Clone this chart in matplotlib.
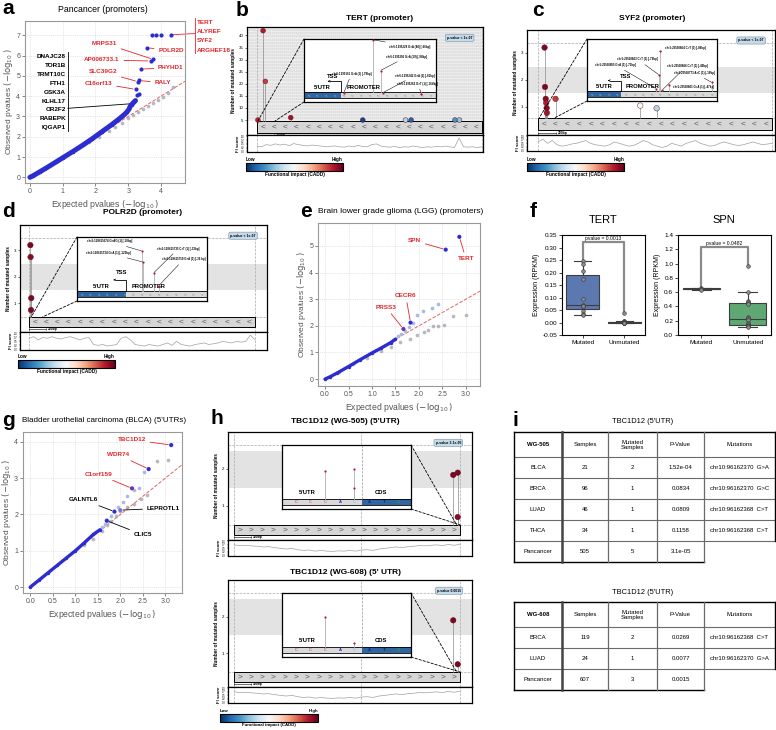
import numpy as np
import matplotlib
matplotlib.use("Agg")
import matplotlib.pyplot as plt
from matplotlib.patches import Rectangle, ConnectionPatch
from matplotlib import cm

plt.rcParams['font.family'] = ['Liberation Sans', 'DejaVu Sans']
plt.rcParams['mathtext.fontset'] = 'dejavusans'

W, H = 776, 730
CMAP = plt.get_cmap('RdBu_r')

# ---------------- data ----------------
# a: Pancancer promoters QQ
a_curve_x = [0.0, 0.1, 0.3, 0.5, 0.8, 1.0, 1.3, 1.6, 1.9, 2.2, 2.5, 2.7, 2.85, 2.95, 3.02, 3.06, 3.1, 3.14, 3.18, 3.22]
a_curve_y = [0.0, 0.08, 0.27, 0.46, 0.76, 0.96, 1.26, 1.57, 1.9, 2.25, 2.6, 2.85, 3.05, 3.2, 3.35, 3.5, 3.58, 3.65, 3.72, 3.78]
a_null_x = [1.8, 2.1, 2.4, 2.6, 2.8, 3.0, 3.15, 3.3, 3.45, 3.6, 3.75, 3.9, 4.05, 4.2, 4.35]
a_null_y = [1.72, 2.0, 2.3, 2.5, 2.7, 2.9, 3.05, 3.2, 3.35, 3.5, 3.65, 3.8, 3.95, 4.15, 4.45]
a_hit_x = [3.28, 3.33, 3.23, 3.3, 3.33, 3.38, 3.68, 3.76, 3.56, 3.71, 3.85, 4.0, 4.3]
a_hit_y = [4.06, 4.09, 4.33, 4.71, 4.77, 5.33, 5.73, 5.81, 6.38, 7.03, 7.03, 7.03, 7.03]
a_top_genes = ["TERT", "ALYREF", "SYF2", "ARGHEF18"]
a_red_genes = ["MRPS31", "AP006733.1", "POLR2D", "PHYHD1", "SLC39G2", "RALY", "C16orf13"]
a_red_hit = [7, 6, 8, 5, 3, 4, 2]
a_black_genes = ["DNAJC28", "TOR1B", "TRMT10C", "FTH1", "GSK3A", "KLHL17", "OR2F2", "RABEPK", "IQGAP1"]

# e: LGG promoters QQ
e_curve_x = [0.0, 0.1, 0.25, 0.5, 0.75, 1.0, 1.2, 1.4, 1.5]
e_curve_y = [0.0, 0.08, 0.22, 0.47, 0.73, 0.98, 1.17, 1.37, 1.5]
e_light_x = [1.55, 1.62, 1.7, 1.78, 1.88, 1.95, 2.09, 2.27, 2.41]
e_light_y = [1.6, 1.7, 1.82, 1.95, 2.1, 2.4, 2.56, 2.66, 2.81]
e_null_x = [0.3, 0.6, 0.9, 1.2, 1.4, 1.6, 1.8, 1.95, 2.1, 2.2, 2.29, 2.41, 2.53, 2.72, 3.0]
e_null_y = [0.28, 0.55, 0.8, 1.05, 1.2, 1.38, 1.52, 1.64, 1.75, 1.86, 1.99, 2.0, 2.02, 2.36, 2.39]
e_genes = ["SPN", "TERT", "CECR6", "PRSS3"]
e_gene_x = [2.57, 2.86, 1.82, 1.67]
e_gene_y = [4.86, 5.34, 2.12, 1.88]

# g: BLCA 5'UTR QQ
g_curve_x = [0.0, 0.2, 0.4, 0.6, 0.8, 1.0, 1.2, 1.4, 1.55]
g_curve_y = [0.0, 0.2, 0.4, 0.6, 0.8, 1.0, 1.22, 1.45, 1.58]
g_light_x = [1.6, 1.65, 1.72, 1.8, 1.95, 2.05, 2.15, 2.3, 2.41, 2.52]
g_light_y = [1.65, 1.75, 1.83, 1.95, 2.2, 2.35, 2.5, 2.68, 2.72, 3.16]
g_null_x = [1.2, 1.4, 1.6, 1.7, 1.8, 1.9, 2.0, 2.15, 2.3, 2.45, 2.6, 2.81, 3.07]
g_null_y = [1.15, 1.33, 1.55, 1.7, 1.82, 1.95, 2.1, 2.2, 2.3, 2.42, 2.55, 3.48, 3.51]
g_genes = ["TBC1D12", "WDR74", "C1orf159", "GALNTL6", "LEPROTL1", "CLIC5"]
g_gene_x = [3.13, 2.63, 2.26, 1.87, 2.0, 1.7]
g_gene_y = [3.91, 3.25, 2.72, 2.08, 2.12, 1.83]

# b: TERT promoter mutations (position along region 0-1000, samples, CADD 0-1)
b_pos = [4, 27, 37, 150, 470, 660, 685, 880, 900]
b_cnt = [5, 42, 21, 6, 5, 5, 5, 5, 5]
b_cadd = [0.88, 0.9, 0.85, 0.92, 0.05, 0.35, 0.1, 0.2, 0.3]
b_fi = [0.35, 0.3, 0.45, 0.4, 0.5, 0.42, 0.48, 0.38, 0.52, 0.45, 0.4, 0.36, 0.42, 0.38, 0.35, 0.3, 0.33,
        0.36, 0.3, 0.28, 0.35, 0.3, 0.4, 0.32, 0.3, 0.45, 0.5, 0.35, 0.3, 0.28, 0.32, 0.25, 0.3, 0.28, 0.35,
        0.3, 0.25, 0.3, 0.28, 0.32, 0.3, 0.35, 0.3, 0.25, 0.9, 0.3, 0.28, 0.3, 0.25, 0.3]
b_in_x = [0.30, 0.52, 0.58, 0.60, 0.89]
b_in_y = [0.14, 0.99, 0.50, 0.15, 0.13]
b_in_lab = ["chr5:1295161 G>A (1) [-79bp]", "chr5:1295228 G>A (40) [-66bp]", "chr5:1295250 G>A (19) [-88bp]",
            "chr5:1295242 G>A (2) [-81bp]", "chr5:1295262 G>T (1) [-164bp]"]

# c: SYF2 promoter
c_pos = [28, 30, 33, 35, 37, 38, 75, 437, 507]
c_cnt = [3.2, 1.74, 1.3, 1.15, 0.96, 0.78, 1.3, 1.05, 0.95]
c_cadd = [0.97, 0.97, 0.95, 0.9, 0.95, 0.92, 0.85, 0.5, 0.35]
c_fi = [0.6, 0.8, 0.5, 0.7, 0.4, 0.3, 0.35, 0.45, 0.5, 0.6, 0.7, 0.5, 0.4, 0.35, 0.3, 0.4, 0.6, 0.5, 0.4,
        0.3, 0.35, 0.5, 0.7, 0.6, 0.4, 0.3, 0.2, 0.3, 0.5, 0.4, 0.3, 0.5, 0.6, 0.7, 0.5, 0.4, 0.3, 0.35,
        0.5, 0.6, 0.5, 0.4, 0.35, 0.4, 0.5, 0.6, 0.5, 0.4, 0.45, 0.5]
c_in_x = [0.53, 0.555, 0.565, 0.58, 0.63, 0.96]
c_in_y = [0.2, 0.42, 0.8, 0.18, 0.26, 0.3]
c_in_lab = ["chr1:25558855 G>A (1) [-71bp]", "chr1:25558863 C>T (1) [-79bp]", "chr1:25558864 C>T (1) [-86bp]",
            "chr1:25558866 C>T (1) [-40bp]", "chr1:25558801 G>A (1) [-47bp]", "chr1:25558773 A>C (1) [-18bp]"]

# d: POLR2D promoter
d_pos = [6, 7, 10, 9]
d_cnt = [3.2, 2.75, 1.2, 0.75]
d_cadd = [0.97, 0.95, 0.97, 0.97]
d_fi = [0.7, 0.8, 0.6, 0.75, 0.7, 0.8, 0.7, 0.65, 0.75, 0.8, 0.7, 0.6, 0.7, 0.75, 0.3, 0.25, 0.3, 0.2,
        0.25, 0.3, 0.7, 0.8, 0.6, 0.3, 0.25, 0.2, 0.3, 0.25, 0.2, 0.3, 0.4, 0.25, 0.5, 0.3, 0.25, 0.2, 0.3,
        0.35, 0.4, 0.3, 0.35, 0.4, 0.5, 0.45, 0.4, 0.5, 0.45, 0.5, 0.9, 0.6]
d_in_x = [0.50, 0.505, 0.59, 0.63]
d_in_y = [0.78, 0.61, 0.44, 0.24]
d_in_lab = ["chr2:128615574 G>AG (1) [-18bp]", "chr2:128615734 G>A (1) [-120bp]",
            "chr2:128615735 C>T (1) [-33bp]", "chr2:128615750 G>A (1) [-36 bp]"]

# h: TBC1D12 5'UTR, two cohorts
h1_pos = [970, 990, 990]
h1_cnt = [1.84, 1.9, 0.7]
h2_pos = [970, 990]
h2_cnt = [1.9, 0.7]
h_cadd = [0.97, 0.97, 0.95]
h_fi = [0.75, 0.7, 0.72, 0.68, 0.65, 0.6, 0.62, 0.55, 0.5, 0.45, 0.5, 0.4, 0.35, 0.38, 0.3, 0.35, 0.3,
        0.28, 0.32, 0.3, 0.35, 0.3, 0.38, 0.4, 0.35, 0.45, 0.5, 0.55, 0.6, 0.55, 0.62, 0.65, 0.7, 0.68,
        0.72, 0.75, 0.7, 0.78, 0.72, 0.8]
h_seq = ["C", "C", "C", "A", "C", "A", "T", "G"]
h1_in_x = [0.335, 0.56, 0.56]
h1_in_y = [0.59, 0.63, 0.33]
h2_in_x = [0.335, 0.56]
h2_in_y = [0.62, 0.22]

# f: expression
f_tert_mut = [0.245, 0.235, 0.205, 0.175, 0.093, 0.07, 0.068, 0.065, 0.047, 0.035, 0.03]
f_tert_unmut = [0.04, 0.008, 0.005, 0.004, 0.003, 0.002, 0.001, 0.001, 0.0, 0.0, 0.0, 0.0, 0.0]
f_spn_mut = [0.66, 0.65, 0.645, 0.63]
f_spn_unmut = [0.97, 0.6, 0.47, 0.46, 0.45, 0.44, 0.25, 0.24, 0.22, 0.21, 0.17, 0.15, 0.14, 0.13, 0.12,
               0.12, 0.11]
f_groups = ["Mutated", "Unmutated"]
f_pvals = ["pvalue = 0.0013", "pvalue = 0.0482"]

# i: tables
i_header = ["Samples", "Mutated\nSamples", "P-Value", "Mutations"]
i1_cohort = "WG-505"
i1_cancer = ["BLCA", "BRCA", "LUAD", "THCA", "Pancancer"]
i1_samples = ["21", "96", "46", "34", "505"]
i1_mutated = ["2", "1", "1", "1", "5"]
i1_pvalue = ["1.52e-04", "0.0834", "0.0809", "0.1158", "3.1e-05"]
i1_muts = ["chr10:96162370  G>A", "chr10:96162370  G>C", "chr10:96162368  C>T", "chr10:96162368  C>T", ""]
i2_cohort = "WG-608"
i2_cancer = ["BRCA", "LUAD", "Pancancer"]
i2_samples = ["119", "24", "607"]
i2_mutated = ["2", "1", "3"]
i2_pvalue = ["0.0269", "0.0077", "0.0015"]
i2_muts = ["chr10:96162368  C>T", "chr10:96162370  G>A", ""]

fig = plt.figure(figsize=(W / 100, H / 100), dpi=100)


def px_axes(x0, y0, x1, y1, **kw):
    return fig.add_axes([x0 / W, 1 - y1 / H, (x1 - x0) / W, (y1 - y0) / H], **kw)


def px_text(x, y, s, **kw):
    fig.text(x / W, 1 - y / H, s, **kw)


# ---------------- QQ plots ----------------
def qq_axes(box, xlim, ylim, xticks, yticks, fmt):
    ax = px_axes(*box)
    ax.set_xlim(xlim)
    ax.set_ylim(ylim)
    ax.set_xticks(xticks)
    ax.set_yticks(yticks)
    ax.set_xticklabels([fmt.format(t) for t in xticks])
    ax.grid(True, color='#d0d0d0', lw=0.5, ls=':')
    ax.set_axisbelow(True)
    for s in ax.spines.values():
        s.set_color('#999999')
        s.set_linewidth(0.8)
    ax.tick_params(labelsize=5, colors='#555555', length=2, width=0.5, pad=1.5)
    ax.set_xlabel(r'Expected pvalues $(-\log_{10})$', fontsize=6.2, color='#555555', labelpad=2)
    ax.set_ylabel(r'Observed pvalues $(-\log_{10})$', fontsize=6.0, color='#555555', labelpad=1)
    ax.plot([0, xlim[1]], [0, xlim[1]], ls='--', color='#e06666', lw=0.7, zorder=1)
    return ax


def qq_curve(ax, cx, cy, nx, ny, lx=None, ly=None, lw=3.0):
    ax.scatter(nx, ny, s=7, color='#9a9aaa', alpha=0.7, lw=0, zorder=2)
    if lx is not None:
        ax.scatter(lx, ly, s=7, color='#a9b9e6', lw=0, zorder=2)
    ax.plot(cx, cy, '-', color='#2c2cd0', lw=lw, solid_capstyle='round', zorder=3)
    ax.scatter(cx, cy, s=6, color='#2c2cd0', lw=0, zorder=3)


def lab(ax, s, txy, pxy, color, ha='center', fs=4.6):
    ax.annotate(s, xy=pxy, xytext=txy, fontsize=fs, color=color, fontweight='bold', ha=ha, va='center',
                arrowprops=dict(arrowstyle='-', color=color, lw=0.6, shrinkA=1, shrinkB=2), zorder=6)


RED = '#e3262b'

# a
ax = qq_axes((25, 21, 185, 183), (-0.15, 4.73), (-0.28, 7.7), range(5), range(8), '{:d}')
qq_curve(ax, a_curve_x, a_curve_y, a_null_x, a_null_y, lw=3.6)
ax.scatter(a_hit_x, a_hit_y, s=9, color='#2c2cd0', lw=0, zorder=4)
a_text_xy = [(2.27, 6.6), (2.2, 5.78), (4.3, 6.27), (4.3, 5.4), (2.23, 5.19), (4.05, 4.65), (2.1, 4.64)]
for g, k, txy in zip(a_red_genes, a_red_hit, a_text_xy):
    lab(ax, g, txy, (a_hit_x[k], a_hit_y[k]), RED)
for j, g in enumerate(a_top_genes):
    ax.text(5.1, 7.65 - 0.46 * j, g, fontsize=4.6, color=RED, fontweight='bold', va='center', clip_on=False)
ax.plot([5.02, 5.02], [7.85, 6.1], color=RED, lw=0.6, clip_on=False)
ax.plot([4.38, 5.02], [7.03, 7.08], color=RED, lw=0.6, clip_on=False)
for j, g in enumerate(a_black_genes):
    ax.text(1.1, 5.93 - 0.435 * j, g, fontsize=4.6, color='black', fontweight='bold', ha='right', va='center')
ax.plot([1.16, 1.16], [6.15, 2.3], color='black', lw=0.6)
ax.plot([1.16, 3.05], [3.4, 3.62], color='black', lw=0.6)

# e
ax = qq_axes((318, 223, 480, 386), (-0.15, 3.3), (-0.26, 5.86), [0, 0.5, 1, 1.5, 2, 2.5, 3], range(6), '{:.1f}')
qq_curve(ax, e_curve_x, e_curve_y, e_null_x, e_null_y, e_light_x, e_light_y, lw=2.4)
ax.scatter(e_gene_x, e_gene_y, s=9, color=['#2c2cd0', '#2c2cd0', '#2c2cd0', '#6a3a9a'], lw=0, zorder=5)
for g, px, py, txy in zip(e_genes, e_gene_x, e_gene_y, [(1.91, 5.19), (3.0, 4.52), (1.72, 3.12), (1.3, 2.69)]):
    lab(ax, g, txy, (px, py), RED)

# g
ax = qq_axes((23, 432, 182, 593), (-0.16, 3.37), (-0.16, 4.27), [0, 0.5, 1, 1.5, 2, 2.5, 3], range(5), '{:.1f}')
qq_curve(ax, g_curve_x, g_curve_y, g_null_x, g_null_y, g_light_x, g_light_y, lw=2.4)
ax.scatter(g_gene_x, g_gene_y, s=9, color=['#2c2cd0', '#2c2cd0', '#6a3a9a', '#2c2cd0', '#7a7acc', '#2c2cd0'],
           lw=0, zorder=5)
g_text_xy = [(2.26, 4.06), (1.96, 3.64), (1.52, 3.1), (1.19, 2.4), (2.95, 2.17), (2.5, 1.44)]
for j, (g, px, py, txy) in enumerate(zip(g_genes, g_gene_x, g_gene_y, g_text_xy)):
    lab(ax, g, txy, (px, py), RED if j < 3 else 'black')


# ---------------- gene track panels ----------------
def gene_panel(frame, split, bar_px, ylim, bar_y, yticks, pos, cnt, cadd, fi, chev, scale_txt, pval,
               band=None, hatched=False, dot=16, extra_v=()):
    x0, y0, x1, y1 = frame
    bx0, bx1 = bar_px
    k = 1000.0 / (bx1 - bx0)
    xl = (-(bx0 - x0) * k, 1000 + (x1 - bx1) * k)
    ax = px_axes(x0, y0, x1, split)
    ax.set_xlim(xl)
    ax.set_ylim(ylim)
    ax.set_xticks([])
    ax.set_yticks(yticks)
    ax.tick_params(labelsize=3.2, length=1.5, width=0.4, pad=1)
    ax.set_ylabel('Number of mutated samples', fontsize=3.4, fontweight='bold', labelpad=2)
    for s in ax.spines.values():
        s.set_linewidth(0.9)
    base = bar_y[1]
    if hatched:
        ax.axhspan(base, ylim[1], color='#ececec', zorder=0, lw=0)
        for yy in np.arange(base + 1.2, ylim[1], 1.3):
            ax.axhline(yy, color='#b5b5b5', lw=0.35, ls=(0, (3, 1.2)), zorder=0)
    if band is not None:
        ax.axhspan(band[0], band[1], color='#e3e3e3', zorder=0, lw=0)
        ax.axhline(base, color='#aaaaaa', lw=0.5, ls='--', zorder=0)
        ax.axhline(ylim[1] - 0.12 * (ylim[1] - ylim[0]), color='#aaaaaa', lw=0.5, ls='--', zorder=0)
    for vx in (0, 1000) + tuple(extra_v):
        ax.axvline(vx, color='#aaaaaa', lw=0.5, ls='--', zorder=0)
    ax.add_patch(Rectangle((0, bar_y[0]), 1000, bar_y[1] - bar_y[0], fc='#d6d6d6', ec='black', lw=0.7, zorder=2))
    for j in range(20):
        ax.text(25 + 50 * j, (bar_y[0] + bar_y[1]) / 2, chev, fontsize=6, color='#555555', ha='center',
                va='center', zorder=3)
    sy = bar_y[0] - 0.25 * (bar_y[1] - bar_y[0])
    ax.plot([0, 75], [sy, sy], color='black', lw=0.4)
    ax.plot([0, 75], [sy, sy], '|', color='black', ms=1.5, mew=0.4)
    ax.text(85, sy, scale_txt, fontsize=2.4, va='center', fontweight='bold')
    heads = np.maximum(cnt, base)
    for p, c in zip(pos, heads):
        ax.plot([p, p], [base, c], color='#8a8a8a', lw=0.5, zorder=3)
    ax.scatter(pos, heads, s=dot, c=[CMAP(v) for v in cadd], lw=0.3, edgecolors='#5a0a1a', zorder=4)
    ax.text(0.955, 0.9, pval, transform=ax.transAxes, fontsize=2.5, ha='right', va='center', fontweight='bold',
            bbox=dict(boxstyle='round,pad=0.45', fc='#c6dbe9', ec='#6f8fa8', lw=0.4), zorder=6)
    fx = px_axes(x0, split, x1, y1)
    fx.set_xlim(xl)
    fx.set_ylim(-0.05, 1.1)
    fx.plot(np.linspace(0, 1000, len(fi)), fi, color='#a0a0a0', lw=0.5)
    for vx in (0, 1000) + tuple(extra_v):
        fx.axvline(vx, color='#aaaaaa', lw=0.5, ls='--', zorder=0)
    fx.set_xticks([])
    fx.set_yticks([0.0, 0.25, 0.5, 0.75, 1.0])
    fx.set_yticklabels(['0.0', '0.2', '0.5', '0.7', '1.0'])
    fx.tick_params(labelsize=1.8, length=1, width=0.3, pad=0.5)
    fx.set_ylabel('FI score', fontsize=3.2, fontweight='bold', labelpad=1)
    for s in fx.spines.values():
        s.set_linewidth(0.9)
    return ax


def inset_box(box, main, anchors, corner_x):
    ins = px_axes(*box, zorder=5)
    ins.set_xlim(0, 1)
    ins.set_ylim(0, 1)
    ins.set_xticks([])
    ins.set_yticks([])
    ins.set_facecolor('white')
    for s in ins.spines.values():
        s.set_linewidth(0.9)
    for cy, (mx, my) in zip((1, 0), anchors):
        con = ConnectionPatch(xyA=(corner_x, cy), coordsA=ins.transAxes, xyB=(mx, my), coordsB=main.transData,
                              ls=(0, (3, 2)), lw=0.6, color='black', zorder=7)
        fig.add_artist(con)
    return ins


def promoter_inset(ins, utr_end, sx, sy, labels, lab_xy, tss_label_xy):
    ins.add_patch(Rectangle((0, 0.06), utr_end, 0.1, fc='#2f65a0', ec='none'))
    ins.add_patch(Rectangle((utr_end, 0.06), 1 - utr_end, 0.1, fc='#d9d9d9', ec='none'))
    ins.plot([0, 1], [0.06, 0.06], color='black', lw=0.6)
    ins.plot([0, 1], [0.16, 0.16], color='black', lw=0.6)
    for j in range(15):
        xx = 0.035 + j * 0.066
        ins.text(xx, 0.11, '<', fontsize=3, color='#cfd8e8' if xx < utr_end else '#666666',
                 ha='center', va='center')
    ins.text(utr_end / 2, 0.23, "5'UTR", fontsize=4.2, fontweight='bold', ha='center', va='center')
    ins.text(utr_end + 0.17, 0.23, "PROMOTER", fontsize=4.2, fontweight='bold', ha='center', va='center')
    ins.plot([utr_end, utr_end, utr_end - 0.08], [0.16, 0.33, 0.33], color='black', lw=0.6)
    ins.annotate('', xy=(utr_end - 0.1, 0.33), xytext=(utr_end - 0.07, 0.33),
                 arrowprops=dict(arrowstyle='->', lw=0.5, mutation_scale=3))
    ins.text(tss_label_xy[0], tss_label_xy[1], 'TSS', fontsize=4.2, fontweight='bold', ha='center', va='center')
    for x, y in zip(sx, sy):
        ins.plot([x, x], [0.16, y], color='#b0b0b0', lw=0.6)
    ins.scatter(sx, sy, s=2.5, color='#b01c32', lw=0, zorder=4)
    for s, x, y, txy in zip(labels, sx, sy, lab_xy):
        ins.annotate(s, xy=(x, y), xytext=txy, fontsize=2.1, fontweight='bold', ha='center', va='center',
                     arrowprops=dict(arrowstyle='-', lw=0.35, shrinkA=0.5, shrinkB=0.5))


# b
ax = gene_panel((247, 27, 483, 152), 135, (257, 482), (-1.2, 43.5), (-0.2, 4.6), range(5, 41, 5),
                b_pos, b_cnt, b_cadd, b_fi, '<', '200bp', 'p-value < 1e-07', hatched=True, dot=12)
ins = inset_box((304, 39, 436, 102), ax, [(4, 4.6), (80, 4.6)], 0)
promoter_inset(ins, 0.28, b_in_x, b_in_y, b_in_lab,
               [(0.36, 0.45), (0.8, 0.88), (0.78, 0.72), (0.84, 0.42), (0.86, 0.29)], (0.22, 0.4))

# c
ax = gene_panel((527, 30, 775, 151), 135, (538, 772), (-0.04, 3.85), (0.15, 0.59), [1, 2, 3],
                c_pos, c_cnt, c_cadd, c_fi, '<', '200bp', 'p-value < 1e-07', band=(1.52, 2.48), dot=16)
ins = inset_box((587, 39, 717, 101), ax, [(5, 0.59), (70, 0.59)], 0)
promoter_inset(ins, 0.26, c_in_x, c_in_y, c_in_lab,
               [(0.22, 0.58), (0.39, 0.67), (0.76, 0.86), (0.77, 0.57), (0.82, 0.22), (0.83, 0.45)],
               (0.3, 0.4))

# d
ax = gene_panel((20, 225, 267, 350), 332, (29, 255), (-0.08, 3.96), (0.11, 0.49), [1, 2, 3],
                d_pos, d_cnt, d_cadd, d_fi, '<', '200bp', 'p-value < 1e-07', band=(1.5, 2.5), dot=16)
ins = inset_box((77, 237, 207, 301), ax, [(10, 0.49), (60, 0.49)], 0)
promoter_inset(ins, 0.38, d_in_x, d_in_y, d_in_lab,
               [(0.25, 0.93), (0.24, 0.75), (0.78, 0.82), (0.82, 0.65)], (0.34, 0.44))


# h
def utr_inset(ins, sx, sy):
    ins.add_patch(Rectangle((0, 0.06), 0.62, 0.1, fc='#d9d9d9', ec='none'))
    ins.add_patch(Rectangle((0.62, 0.06), 0.38, 0.1, fc='#2f65a0', ec='none'))
    ins.plot([0, 1], [0.06, 0.06], color='black', lw=0.6)
    ins.plot([0, 1], [0.16, 0.16], color='black', lw=0.6)
    ins.plot([0.62, 0.62], [0.16, 1], color='#999999', lw=0.5, ls='--')
    seq_cols = ['#e05a6a', '#e05a6a', '#e05a6a', '#2424c8', '#7fc4e8', '#1a1a9a', '#222222', '#3a9a3a']
    seq_x = [0.11, 0.22, 0.335, 0.45, 0.56, 0.675, 0.79, 0.9]
    for b, c, x in zip(h_seq, seq_cols, seq_x):
        ins.text(x, 0.11, b, fontsize=3, color=c, ha='center', va='center', fontweight='bold')
    ins.text(0.2, 0.25, "5'UTR", fontsize=4.2, fontweight='bold', ha='center', va='center')
    ins.text(0.77, 0.25, "CDS", fontsize=4.2, fontweight='bold', ha='center', va='center')
    for x, y in zip(sx, sy):
        ins.plot([x, x], [0.16, y], color='#b0b0b0', lw=0.6)
    ins.scatter(sx, sy, s=2.5, color='#b01c32', lw=0, zorder=4)


ax = gene_panel((228, 432, 472, 556), 540, (234, 460), (0.08, 3.0), (0.22, 0.49), [1, 2],
                h1_pos, h1_cnt, h_cadd, h_fi, '>', '100bp', 'p-value 3.1e-05', band=(1.49, 2.49), dot=16,
                extra_v=(560,))
ins = inset_box((282, 445, 411, 509), ax, [(985, 0.49), (1000, 0.49)], 1)
utr_inset(ins, h1_in_x, h1_in_y)
ax = gene_panel((228, 580, 472, 703), 687, (234, 460), (0.08, 3.0), (0.22, 0.49), [1, 2],
                h2_pos, h2_cnt, h_cadd[:2], h_fi, '>', '100bp', 'p-value 0.0015', band=(1.49, 2.49), dot=16,
                extra_v=(560,))
ins = inset_box((282, 593, 411, 657), ax, [(985, 0.49), (1000, 0.49)], 1)
utr_inset(ins, h2_in_x, h2_in_y)


# colour bars
def cadd_bar(x0, y0, x1, y1, fs=3.4):
    cax = px_axes(x0, y0, x1, y1)
    cb = fig.colorbar(cm.ScalarMappable(cmap=CMAP), cax=cax, orientation='horizontal')
    cax.set_xticks([])
    cb.outline.set_linewidth(0.8)
    px_text(x0, y0 - 1, 'Low', fontsize=fs, fontweight='bold', va='bottom')
    px_text(x1, y0 - 1, 'High', fontsize=fs, fontweight='bold', va='bottom', ha='right')
    px_text((x0 + x1) / 2, y1 + 1, 'Functional impact (CADD)', fontsize=fs, fontweight='bold', va='top',
            ha='center')


cadd_bar(246, 163, 343, 171)
cadd_bar(527, 163, 624, 171)
cadd_bar(18, 360, 115, 368)
cadd_bar(220, 714, 318, 722, fs=3.2)


# ---------------- f: expression boxplots ----------------
def expr_box(box, mut, unmut, ylim, yticks, fmt, pval):
    ax = px_axes(*box)
    bp = ax.boxplot([mut, unmut], positions=[0, 1], widths=0.8, patch_artist=True, showfliers=False,
                    medianprops=dict(color='#3d3d3d', lw=0.8), whiskerprops=dict(color='#3d3d3d', lw=0.8),
                    capprops=dict(color='#3d3d3d', lw=0.8), boxprops=dict(ec='#3d3d3d', lw=0.8))
    for patch, col in zip(bp['boxes'], ['#5b79b0', '#5fa873']):
        patch.set_facecolor(col)
    for k, vals in enumerate([mut, unmut]):
        ax.scatter([k] * len(vals), vals, s=7, color='#8c8c8c', edgecolors='#333333', lw=0.4, zorder=4)
    span = ylim[1] - ylim[0]
    top = max(max(mut), max(unmut)) + 0.19 * span
    ax.plot([0, 0, 1, 1], [max(mut) + 0.02 * span, top, top, max(unmut) + 0.02 * span], color='#8a8a8a',
            lw=1.6, zorder=3)
    ax.text(0.5, top + 0.008 * span, pval, fontsize=3.6, ha='center', va='bottom')
    ax.set_xlim(-0.5, 1.5)
    ax.set_ylim(ylim)
    ax.set_yticks(yticks)
    ax.set_yticklabels([fmt.format(t) for t in yticks])
    ax.set_xticks([0, 1])
    ax.set_xticklabels(f_groups)
    ax.tick_params(labelsize=4.6, length=2, width=0.5, pad=1.5)
    ax.set_ylabel('Expression (RPKM)', fontsize=5, labelpad=2)
    for s in ax.spines.values():
        s.set_linewidth(0.8)
    return ax


expr_box((562, 235, 645, 335), f_tert_mut, f_tert_unmut, (-0.05, 0.35),
         [-0.05, 0, 0.05, 0.1, 0.15, 0.2, 0.25, 0.3, 0.35], '{:.2f}', f_pvals[0])
expr_box((678, 235, 771, 335), f_spn_mut, f_spn_unmut, (0, 1.4), [0, 0.2, 0.4, 0.6, 0.8, 1.0, 1.2, 1.4],
         '{:.1f}', f_pvals[1])
px_text(603, 220, 'TERT', fontsize=8, ha='center', va='center')
px_text(724, 220, 'SPN', fontsize=8, ha='center', va='center')

# ---------------- i: tables ----------------
tax = px_axes(505, 405, 776, 730)
tax.set_xlim(505, 776)
tax.set_ylim(730, 405)
tax.axis('off')
cols = [514, 562, 608, 657, 704, 775]


def table(top, cohort, cancer, samples, mutated, pvalue, muts):
    rows = [top, top + 25] + [top + 25 + 21 * (j + 1) for j in range(len(cancer))]
    for j, (c, s, m, p, mu) in enumerate(zip(cancer, samples, mutated, pvalue, muts)):
        cy = (rows[j + 1] + rows[j + 2]) / 2
        for x0, x1, t in zip(cols[:-1], cols[1:], [c, s, m, p, mu]):
            tax.text((x0 + x1) / 2, cy, t, fontsize=4.3, ha='center', va='center')
    hy = (rows[0] + rows[1]) / 2
    tax.text((cols[0] + cols[1]) / 2, hy, cohort, fontsize=4.3, ha='center', va='center', fontweight='bold')
    for x0, x1, t in zip(cols[1:-1], cols[2:], i_header):
        tax.text((x0 + x1) / 2, hy, t, fontsize=4.3, ha='center', va='center', linespacing=1.0)
    last = rows[-1]
    full = rows[-2]
    for y in rows[1:-2]:
        tax.plot([cols[0], cols[-1]], [y, y], color='#6a6a6a', lw=0.8)
    tax.plot([cols[0], cols[-1]], [top, top], color='black', lw=1.0)
    tax.plot([cols[0], cols[-1]], [full, full], color='#6a6a6a', lw=0.8)
    tax.plot([cols[0], cols[-2]], [last, last], color='black', lw=1.0)
    tax.plot([cols[0], cols[0]], [top, last], color='black', lw=1.0)
    tax.plot([cols[1], cols[1]], [top, last], color='#444444', lw=1.8)
    for x in cols[2:-1]:
        tax.plot([x, x], [top, last], color='#6a6a6a', lw=0.9)
    tax.plot([cols[-1], cols[-1]], [top, full], color='black', lw=1.0)


table(432, i1_cohort, i1_cancer, i1_samples, i1_mutated, i1_pvalue, i1_muts)
table(602, i2_cohort, i2_cancer, i2_samples, i2_mutated, i2_pvalue, i2_muts)

# ---------------- titles and panel letters ----------------
px_text(103, 10, 'Pancancer (promoters)', fontsize=6.3, ha='center', va='center')
px_text(380, 18, 'TERT (promoter)', fontsize=6, ha='center', va='center', fontweight='bold')
px_text(652, 18, 'SYF2 (promoter)', fontsize=6, ha='center', va='center', fontweight='bold')
px_text(143, 213, 'POLR2D (promoter)', fontsize=6, ha='center', va='center', fontweight='bold')
px_text(318, 212, 'Brain lower grade glioma (LGG) (promoters)', fontsize=6.0, ha='left', va='center')
px_text(22, 420, "Bladder urothelial carcinoma (BLCA) (5'UTRs)", fontsize=5.8, ha='left', va='center')
px_text(345, 422, "TBC1D12 (WG-505) (5'UTR)", fontsize=6, ha='center', va='center', fontweight='bold')
px_text(345, 572, "TBC1D12 (WG-608) (5' UTR)", fontsize=6, ha='center', va='center', fontweight='bold')
px_text(643, 422, "TBC1D12 (5'UTR)", fontsize=5.4, ha='center', va='center')
px_text(643, 593, "TBC1D12 (5'UTR)", fontsize=5.4, ha='center', va='center')
for s, x, y in [('a', 2, 9), ('b', 236, 10), ('c', 532, 10), ('d', 2, 212), ('e', 300, 212), ('f', 530, 212),
                ('g', 2, 420), ('h', 210, 418), ('i', 512, 420)]:
    px_text(x, y, s, fontsize=15, fontweight='bold', va='center', ha='left')

fig.savefig('out.png', dpi=100)
